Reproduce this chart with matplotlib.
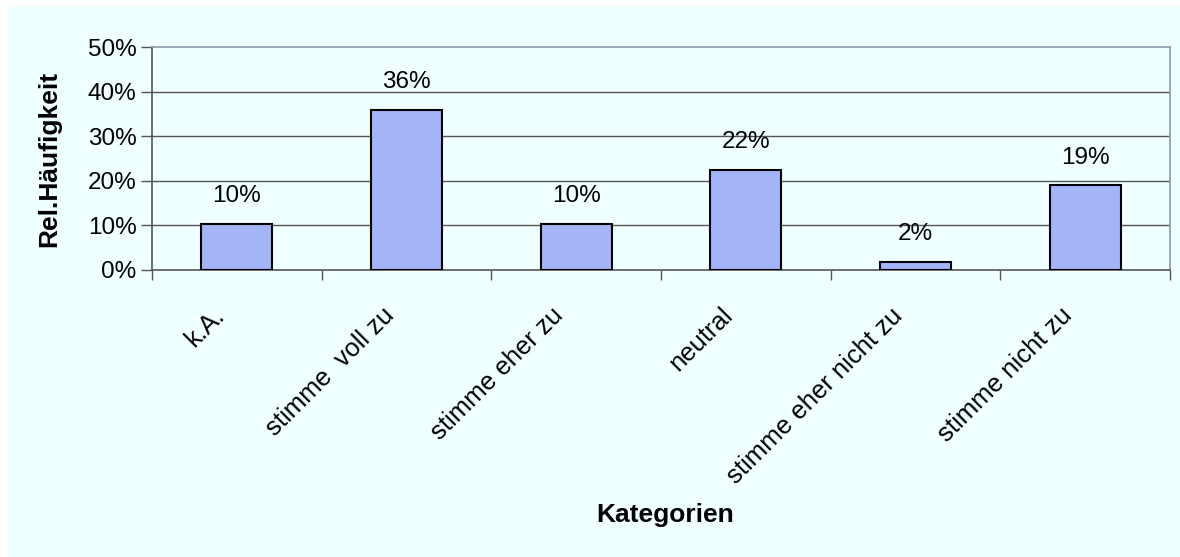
import matplotlib
matplotlib.use("Agg")
import matplotlib.pyplot as plt
from matplotlib.patches import Rectangle
from matplotlib.ticker import FixedLocator, NullFormatter
from matplotlib.transforms import ScaledTranslation

categories = ["k.A.", "stimme  voll zu", "stimme eher zu", "neutral",
              "stimme eher nicht zu", "stimme nicht zu"]
values = [10.4, 35.9, 10.4, 22.4, 1.8, 19.0]
value_labels = ["10%", "36%", "10%", "22%", "2%", "19%"]
yticks = [0, 10, 20, 30, 40, 50]
ytick_labels = ["0%", "10%", "20%", "30%", "40%", "50%"]

plt.rcParams['font.family'] = ['Liberation Sans', 'DejaVu Sans']

W, H = 1180, 557
fig = plt.figure(figsize=(W / 100, H / 100), dpi=100)
fig.patch.set_facecolor("white")
bg = Rectangle((8 / W, 0), 1 - 8 / W, 1 - 6 / H, transform=fig.transFigure,
               facecolor="#F0FFFF", edgecolor="none", zorder=-10)
fig.patches.append(bg)

left, right, top, bottom = 152, 1170, 47, 270
ax = fig.add_axes([left / W, 1 - bottom / H, (right - left) / W, (bottom - top) / H])
ax.set_facecolor("#F0FFFF")

x = list(range(len(categories)))
ax.bar(x, values, width=0.42, color="#A4B4F8", edgecolor="black", linewidth=1.5, zorder=3)

for xi, v, lab in zip(x, values, value_labels):
    ax.annotate(lab, (xi, v), xytext=(0, 12), textcoords="offset points",
                ha="center", va="bottom", fontsize=17.5, color="black")

ax.set_xlim(-0.5, len(categories) - 0.5)
ax.set_ylim(0, 50)
ax.set_yticks(yticks)
ax.set_yticklabels(ytick_labels, fontsize=17.5)
for yv in yticks[1:-1]:
    ax.axhline(yv, color="#555555", linewidth=1.0, zorder=1)

ax.xaxis.set_major_locator(FixedLocator([i - 0.5 for i in range(len(categories) + 1)]))
ax.xaxis.set_major_formatter(NullFormatter())
ax.xaxis.set_minor_locator(FixedLocator(x))
ax.set_xticklabels(categories, minor=True, rotation=45, ha="right", va="top",
                   rotation_mode="anchor", fontsize=18.5)
ax.tick_params(axis="x", which="minor", length=0, pad=24)
ax.tick_params(axis="x", which="major", length=7, width=1, color="#555555", direction="out")
ax.tick_params(axis="y", length=8, width=1, color="#555555", direction="out", pad=3)
shift = ScaledTranslation(-25 / 100, 0, fig.dpi_scale_trans)
for lab in ax.xaxis.get_minorticklabels():
    lab.set_transform(lab.get_transform() + shift)

for s in ["left", "bottom"]:
    ax.spines[s].set_color("#555555")
    ax.spines[s].set_linewidth(1.2)
for s in ["top", "right"]:
    ax.spines[s].set_color("#8A98AA")
    ax.spines[s].set_linewidth(1.2)

ax.set_ylabel("Rel.Häufigkeit", fontsize=19, fontweight="bold", labelpad=19)
fig.text(665 / W, 1 - 515 / H, "Kategorien", fontsize=19, fontweight="bold",
         ha="center", va="center")

fig.savefig("out.png", dpi=100, facecolor=fig.get_facecolor())
